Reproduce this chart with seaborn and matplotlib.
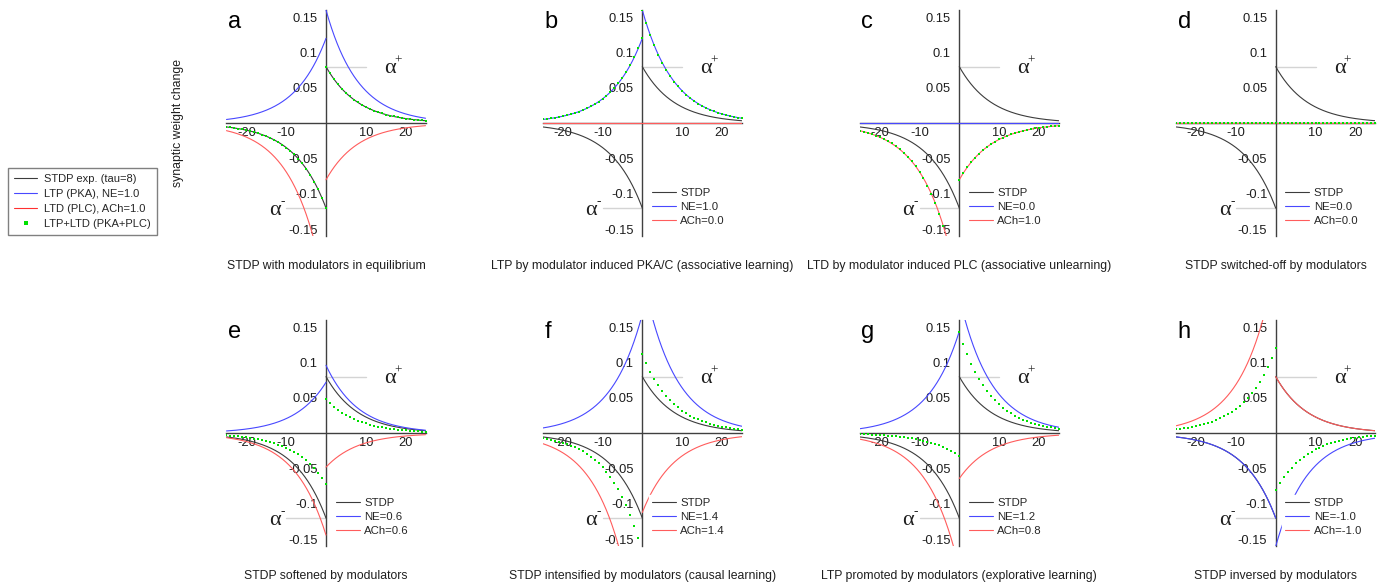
import numpy as np
import pandas as pd
import matplotlib
matplotlib.use("Agg")
import matplotlib.pyplot as plt
from matplotlib.lines import Line2D
from matplotlib.transforms import offset_copy
import seaborn as sns

sns.set_style("white")
plt.rcParams["font.family"] = ["Liberation Sans", "DejaVu Sans"]
plt.rcParams["axes.unicode_minus"] = False

# ---------------- data ----------------
panel_letters = ["a", "b", "c", "d", "e", "f", "g", "h"]
panel_titles = [
    "STDP with modulators in equilibrium",
    "LTP by modulator induced PKA/C (associative learning)",
    "LTD by modulator induced PLC (associative unlearning)",
    "STDP switched-off by modulators",
    "STDP softened by modulators",
    "STDP intensified by modulators (causal learning)",
    "LTP promoted by modulators (explorative learning)",
    "STDP inversed by modulators",
]
ne_values = [1.0, 1.0, 0.0, 0.0, 0.6, 1.4, 1.2, -1.0]
ach_values = [1.0, 0.0, 1.0, 0.0, 0.6, 1.4, 0.8, -1.0]
tau = 8.0  # "STDP exp. (tau=8)"

# amplitudes at dt = 0 (left branch dt<0, right branch dt>0)
stdp_left, stdp_right = -0.12, 0.08
ltp_left = [0.12, 0.12, 0.0, 0.0, 0.072, 0.168, 0.144, -0.12]
ltp_right = [0.16, 0.16, 0.0, 0.0, 0.096, 0.224, 0.192, -0.16]
ltd_left = [-0.24, 0.0, -0.24, 0.0, -0.144, -0.336, -0.192, 0.24]
ltd_right = [-0.08, 0.0, -0.08, 0.0, -0.048, -0.112, -0.064, 0.08]
sum_left = [-0.12, 0.12, -0.24, 0.0, -0.072, -0.168, -0.032, 0.12]
sum_right = [0.08, 0.16, -0.08, 0.0, 0.048, 0.112, 0.143, -0.08]

x_ticks = [-20, -10, 10, 20]
y_ticks = [0.15, 0.1, 0.05, -0.05, -0.1, -0.15]
y_ticklabels = ["0.15", "0.1", "0.05", "-0.05", "-0.1", "-0.15"]

legend_labels_main = ["STDP exp. (tau=8)", "LTP (PKA), NE=1.0",
                      "LTD (PLC), ACh=1.0", "LTP+LTD (PKA+PLC)"]

# ---------------- styles ----------------
C_STDP = "#3c3c3c"
C_NE = "#4848ff"
C_ACH = "#ff5c5c"
C_SUM = "#00e000"
C_REF = "#d4d4d4"
C_TXT = "#1e1e1e"
LW = 0.8

W, H = 1389, 587
fig = plt.figure(figsize=(W / 100, H / 100), dpi=100)

col_left_px = [226.5, 542.8, 859.8, 1176.2]
ax_w = 199 / W
row_bottom = [0.5973, 0.0692]
ax_h = 0.3856

t_fine_l = np.linspace(-25, 0, 251)
t_fine_r = np.linspace(0, 25, 251)
t_dot_l = np.arange(-25, 1, 1.0)
t_dot_r = np.arange(0, 26, 1.0)


def branch_frame(amp_l, amp_r, tl, tr):
    df_l = pd.DataFrame({"t": tl, "w": amp_l * np.exp(tl / tau), "side": "pre"})
    df_r = pd.DataFrame({"t": tr, "w": amp_r * np.exp(-tr / tau), "side": "post"})
    return pd.concat([df_l, df_r], ignore_index=True)


def alpha_label(ax, x, y, sign, ha):
    ax.text(x, y, "\u03b1", fontsize=16, family="Liberation Serif",
            va="center", ha=ha, color=C_TXT)
    dx = 10.0 if ha == "left" else 0.0
    tr = offset_copy(ax.transData, fig=fig, x=dx, y=8, units="dots")
    ax.text(x, y, sign, fontsize=9.5, family="Liberation Serif",
            va="center", ha="left", color=C_TXT, transform=tr)


for i in range(8):
    r, c = divmod(i, 4)
    ax = fig.add_axes([col_left_px[c] / W, row_bottom[r], ax_w, ax_h])
    ax.set_xlim(-25, 25)
    ax.set_ylim(-0.16, 0.16)

    # reference lines alpha+ / alpha-
    ax.plot([0, 10], [stdp_right, stdp_right], color=C_REF, lw=1.0, zorder=1)
    ax.plot([-10, 0], [stdp_left, stdp_left], color=C_REF, lw=1.0, zorder=1)

    curves = [
        (stdp_left, stdp_right, C_STDP, "STDP"),
        (ltp_left[i], ltp_right[i], C_NE, f"NE={ne_values[i]:.1f}"),
        (ltd_left[i], ltd_right[i], C_ACH, f"ACh={ach_values[i]:.1f}"),
    ]
    handles = []
    for z, (al, ar, col, lab) in enumerate(curves):
        df = branch_frame(al, ar, t_fine_l, t_fine_r)
        sns.lineplot(data=df, x="t", y="w", units="side", estimator=None,
                     sort=False, color=col, lw=LW, ax=ax, zorder=3 + z,
                     legend=False)
        handles.append(Line2D([], [], color=col, lw=LW, label=lab))

    dfd = branch_frame(sum_left[i], sum_right[i], t_dot_l, t_dot_r)
    dfd = dfd[(dfd.w >= -0.16) & (dfd.w <= 0.16)]
    sns.scatterplot(data=dfd, x="t", y="w", marker="s", s=3.2, color=C_SUM,
                    linewidth=0, ax=ax, zorder=7, legend=False)

    # axes through the origin
    for side in ["top", "right"]:
        ax.spines[side].set_visible(False)
    ax.spines["left"].set_position(("data", 0))
    ax.spines["bottom"].set_position(("data", 0))
    for side in ["left", "bottom"]:
        ax.spines[side].set_color("#404040")
        ax.spines[side].set_linewidth(1.0)
        ax.spines[side].set_zorder(2)
    ax.set_xticks(x_ticks)
    ax.set_xticklabels([str(v) for v in x_ticks])
    ax.set_yticks(y_ticks)
    ax.set_yticklabels(y_ticklabels)
    ax.tick_params(axis="x", direction="in", length=3, width=0.8,
                   color="#606060", labelsize=9.3, pad=3, labelcolor=C_TXT)
    ax.tick_params(axis="y", direction="in", length=3, width=0.8,
                   color="#606060", labelsize=9.3, pad=6, labelcolor=C_TXT)
    ax.set_xlabel("")
    ax.set_ylabel("")
    ax.patch.set_alpha(0)

    alpha_label(ax, 14.6, 0.077, "+", "left")
    alpha_label(ax, -11.4, -0.123, "-", "right")

    ax.text(-24.6, 0.159, panel_letters[i], fontsize=17, va="top",
            ha="left", color="black")
    ax.text(0.5, -0.131, panel_titles[i], transform=ax.transAxes,
            fontsize=8.8, ha="center", va="center", color=C_TXT)

    if i > 0:
        leg = ax.legend(handles=handles, loc="upper left",
                        bbox_to_anchor=(1.7, -0.087),
                        bbox_transform=ax.transData, fontsize=8.2,
                        frameon=True, fancybox=False, framealpha=1,
                        facecolor="white", edgecolor="white",
                        borderpad=0.25, borderaxespad=0, labelspacing=0.35,
                        handlelength=2.1, handletextpad=0.4)
        leg.set_zorder(10)

fig.text(178 / W, 1 - 123 / H, "synaptic weight change", rotation=90,
         ha="center", va="center", fontsize=8.8, color=C_TXT)

main_handles = [
    Line2D([], [], color=C_STDP, lw=LW),
    Line2D([], [], color=C_NE, lw=LW),
    Line2D([], [], color="#ff3030", lw=LW),
    Line2D([], [], color=C_SUM, lw=0, marker="s", markersize=2.2,
           markeredgewidth=0),
]
fig.legend(main_handles, legend_labels_main, loc="upper left",
           bbox_to_anchor=(8 / W, 1 - 168 / H), fontsize=8.0, frameon=True,
           fancybox=False, edgecolor="#808080", framealpha=1,
           borderpad=0.55, borderaxespad=0, labelspacing=0.45,
           handlelength=2.1, handletextpad=0.6)

fig.savefig("out.png", dpi=100)
